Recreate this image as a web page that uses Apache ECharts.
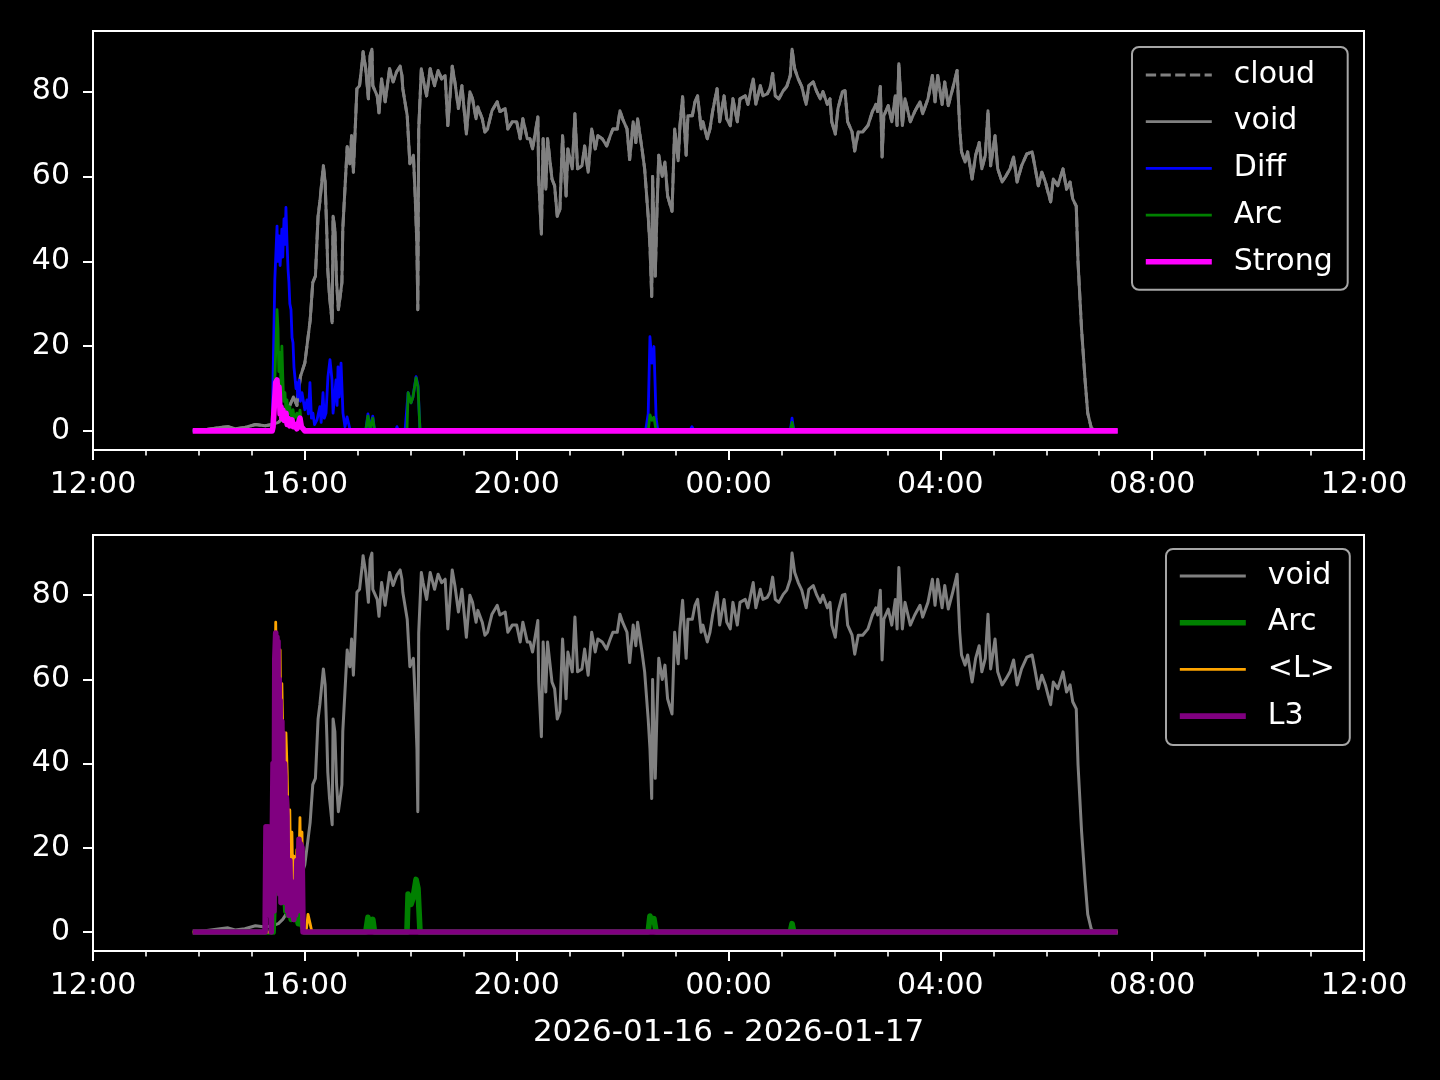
<!DOCTYPE html>
<html><head><meta charset="utf-8">
<script src="https://cdn.jsdelivr.net/npm/echarts@6/dist/echarts.min.js"></script>
<style>html,body{margin:0;padding:0;background:#000;} #c{width:1440px;height:1080px;}</style>
</head><body><div id="c"></div>
<script>
// time = minutes after 2026-01-16 12:00
const xTickMinutes = [0, 240, 480, 720, 960, 1200, 1440];
const xTickLabels = ['12:00', '16:00', '20:00', '00:00', '04:00', '08:00', '12:00'];
const yTicks = [0, 20, 40, 60, 80];
const dateLabel = '2026-01-16 - 2026-01-17';
const topLegend = ['cloud', 'void', 'Diff', 'Arc', 'Strong'];
const bottomLegend = ['void', 'Arc', '<L>', 'L3'];

const voidSeries = [[113,0],[127,0.3],[144,0.8],[153,1.0],[161,0.5],[172,0.8],[184,1.5],[195,1.2],[203,1.5],[210,2.0],[215,3],[221,5],[227,8],[231,6],[235,12.8],[240,16],[246,26],[249,35],[252,36.5],[255,50.6],[257,54],[261,62.5],[263,58.7],[265,46],[266,38],[268,31.7],[271,25.5],[272,50.6],[274,47.6],[276,35],[278,28.6],[280,31.7],[282,35],[283,47.6],[288,67],[291,63],[293,69.6],[295,61],[299,80.7],[302,81.4],[305,87],[306,89.4],[309,85.4],[312,78.3],[314,88.5],[316,90],[317,81.4],[322,79],[324,75],[327,83],[331,77.6],[333,80.7],[336,85.4],[340,82.3],[344,84.7],[348,86],[350,83.8],[351,80.7],[356,74.3],[359,63],[363,65],[365,55.5],[367,43.6],[368,28.6],[369,71],[372,85.4],[374,83],[378,79],[382,85.4],[387,81.4],[391,85],[395,83],[399,83.8],[402,72],[407,86],[410,82.3],[414,76],[418,81.4],[423,70],[427,80],[430,78.3],[434,73.6],[436,76.4],[441,73.6],[444,70.5],[447,71.2],[452,75.5],[458,77.6],[461,75.3],[467,76],[470,71.2],[475,72.9],[480,72.9],[484,68.9],[487,73.6],[492,68.9],[495,68.9],[498,66.5],[504,74],[505,59.4],[508,46.4],[510,68.9],[513,57],[515,68.9],[520,59.4],[523,57.8],[526,50.6],[529,52.3],[532,69.6],[536,55.4],[538,66.5],[543,61.8],[546,74.8],[549,61.8],[554,62.5],[557,67.2],[561,61],[565,71.2],[569,66.5],[572,69.6],[577,68.9],[582,67.2],[586,69.6],[589,71.2],[594,71.2],[597,75.5],[600,73.6],[605,71.2],[608,64],[612,72.9],[615,68],[617,73.6],[622,66.5],[625,61.8],[629,50.6],[631,43.6],[633,31.7],[634,60],[637,36.5],[639,52.3],[641,65],[645,60],[648,63.4],[651,55.4],[656,51.8],[659,71.2],[663,63.7],[665,72],[668,78.8],[672,65],[674,74.3],[679,74.3],[682,77.6],[685,79],[689,71.2],[691,72.9],[696,68.9],[699,71.2],[702,75.3],[707,80.7],[710,72.9],[715,79],[718,73.6],[722,72],[725,78.3],[730,72.9],[733,78.3],[739,79],[742,77],[748,83],[751,77],[756,81.4],[759,79],[764,79.5],[767,80.7],[770,84.3],[773,79],[777,78.3],[782,80.2],[786,81.2],[790,83.8],[792,90],[795,85.4],[799,83],[803,81.2],[808,77],[811,81.4],[816,82.3],[820,80],[824,78.3],[827,80],[832,77],[835,78.3],[837,72.9],[841,70],[844,76],[849,80],[852,80.2],[855,72.9],[860,70.5],[863,66],[867,70.5],[872,70.5],[878,72],[883,75.3],[887,77],[889,75.3],[892,81.2],[894,64.6],[896,74.3],[901,76.7],[905,72.9],[909,79],[911,72],[913,86.6],[917,72],[920,78.3],[926,72.9],[931,75.3],[937,77.6],[940,74.8],[946,78.3],[951,83.8],[954,77.6],[957,83.8],[962,77],[965,82.3],[969,76.7],[974,80.7],[979,85],[982,71.2],[984,65.8],[988,63.4],[991,65.8],[996,59.4],[1000,65],[1004,68],[1007,61.8],[1011,65],[1014,75.5],[1017,62.5],[1022,69.6],[1025,61.8],[1030,58.7],[1034,60],[1039,61.8],[1043,64.6],[1047,58.7],[1052,62.5],[1058,65.3],[1064,65.8],[1067,62.5],[1071,57.8],[1075,61],[1079,58.7],[1082,56.3],[1085,54],[1088,59.4],[1093,57.8],[1099,61.8],[1103,57],[1107,58.7],[1110,54.7],[1114,53],[1116,39.8],[1120,24],[1124,12],[1127,4.2],[1131,0.7],[1135,0],[1161,0]];

const diffSeries = [[113,0],[202,0],[203,1],[206,35.7],[208.5,48.3],[209.3,40],[210.7,46],[212,39],[213,38.8],[214,47.6],[215,41],[216.4,50],[217.5,44],[218.6,52.7],[219.8,44.5],[221,38],[222,35],[223,30],[224.3,28.6],[225.5,22],[226.6,20.8],[227.7,15],[228.8,15.1],[230,10],[231,11.4],[232,8],[233.4,12],[235,7],[236.8,9],[238,9],[240,5],[242.4,7.3],[244,4],[245.8,11.4],[247.5,3],[249.2,4.2],[251,1.5],[253.8,2.6],[257,5.7],[258.5,2],[260.6,9],[262,3],[264,4.2],[266.2,12.8],[268.5,16.8],[270.8,12],[272,4.2],[275.3,12],[276.5,6],[277.6,15.1],[279,8],[281,16],[283.2,4.2],[285.5,1],[287.8,3.3],[291,0.5],[293,0],[309,0],[311.5,4],[313.8,0.5],[317,3.5],[319,0],[343,0],[344.4,1],[346,0],[353.5,0],[357,9],[359,9],[360.3,6.6],[362.5,8],[366,12.8],[368.2,10.7],[370.5,0],[626,0],[629,4],[631,22.2],[633.3,16],[635.5,19.9],[638,3],[640,0],[676,0],[678.6,1],[681,0],[790,0],[792,3],[794,0],[1161,0]];

const arcSeries = [[113,0],[204,0],[206,12],[208.5,28.6],[209.6,24],[210.5,14],[212,18.5],[213,10],[214,20],[215,12.8],[216,7],[217.5,9],[218.5,5],[219.8,7.3],[221,4],[223,5.7],[224.5,3],[226.6,5],[228,3],[231,4.2],[232.5,2],[234.5,4.9],[236,2],[238,1],[240,0],[309,0],[311.5,3.5],[313.8,0.5],[317,3],[319,0],[355.7,0],[357,9],[360.3,6.6],[362.5,8],[366,12.5],[368.2,10.4],[370.5,0],[629,0],[631,3.8],[633.3,2.5],[635.5,3.2],[638,0],[790,0],[792,2],[794,0],[1161,0]];

const strongSeries = [[113,0],[203,0],[204,1],[207,11.4],[208.5,12],[209.5,7],[210.7,10.4],[212,4],[213,5.7],[214,3],[215,5],[216.5,2.5],[218.6,4.2],[220,1.5],[221,3],[223,1.2],[225.4,2.6],[227,1],[228.8,1.5],[231,0.5],[234.5,3],[236,1],[238,0.5],[240,0],[1161,0]];

const meanLSeries = [[113,0],[203,0],[207,73.6],[209,45],[212,67],[213,40],[214,59],[216,35],[218.6,47.3],[220,38],[221.5,20],[223,29],[224,12],[225.4,23.7],[226.5,10],[227.7,18],[229,8],[231,19.6],[232.5,10],[234.5,27.2],[235.5,12],[236.8,23.7],[238,0.5],[240,0],[242,1],[243.6,4.2],[246,2],[248,0],[1161,0]];

const l3Series = [[113,0],[195,0],[196,25],[197,4],[198.2,25],[199.3,5],[200.5,25],[202,0],[203,0],[204,40],[205,5],[206,65],[207,71],[207.7,10],[208.4,70],[209,18],[209.6,69],[210.3,14],[211,60],[211.6,9],[212,55],[213,7],[214,50],[214.6,11],[215,47.3],[216,9],[217,40],[217.5,37],[218,7],[219,32],[219.8,27.5],[220.5,5],[221,15.6],[222,4],[223,17],[224,6],[225,12],[226.6,9.5],[227.5,3],[228.8,11.8],[229.5,4],[231,17],[232,5],[233.4,22],[234.2,6],[235,21],[236.8,20],[238,0],[1161,0]];

const FONT = 'DejaVu Sans';
const FS = 30;
const GRAY = '#808080';

function xAxisCfg(gridIndex, withName) {
  const cfg = {
    type: 'value', gridIndex: gridIndex, min: 0, max: 1440, interval: 240,
    axisLine: { show: false, onZero: false },
    axisTick: { show: true, inside: false, length: 10, lineStyle: { color: '#fff', width: 2 } },
    minorTick: { show: true, splitNumber: 4, length: 5.5, lineStyle: { color: '#fff', width: 1.6 } },
    splitLine: { show: false }, minorSplitLine: { show: false },
    axisLabel: {
      color: '#fff', fontSize: FS, fontFamily: FONT, margin: 20,
      showMinLabel: true, showMaxLabel: true,
      formatter: function (v) { const i = xTickMinutes.indexOf(v); return i >= 0 ? xTickLabels[i] : ''; }
    }
  };
  if (withName) {
    cfg.name = dateLabel;
    cfg.nameLocation = 'middle';
    cfg.nameGap = 66;
    cfg.nameTextStyle = { color: '#fff', fontSize: 31, fontFamily: FONT };
  }
  return cfg;
}
function yAxisCfg(gridIndex) {
  return {
    type: 'value', gridIndex: gridIndex, min: -4.5, max: 94.3,
    axisLine: { show: false, onZero: false },
    axisTick: { show: true, inside: false, length: 10, customValues: yTicks, lineStyle: { color: '#fff', width: 2 } },
    splitLine: { show: false },
    axisLabel: { color: '#fff', fontSize: FS, fontFamily: FONT, margin: 23, customValues: yTicks }
  };
}
function line(name, data, xi, color, width, type) {
  return {
    type: 'line', name: name, data: data, xAxisIndex: xi, yAxisIndex: xi,
    symbol: 'none', showSymbol: false, silent: true, sampling: null,
    itemStyle: { color: color },
    lineStyle: { color: color, width: width, type: type || 'solid', cap: 'butt', join: 'round' }
  };
}
function legendCfg(names, left, top, pad, textPadLeft, widths) {
  return {
    show: true, orient: 'vertical', left: left, top: top,
    itemWidth: 66, itemHeight: 30, itemGap: 16.7,
    padding: pad, backgroundColor: '#000', borderColor: '#a6a6a6', borderWidth: 2, borderRadius: 7,
    selectedMode: false,
    textStyle: { color: '#fff', fontSize: FS, fontFamily: FONT, lineHeight: 30, padding: [0, 0, 0, textPadLeft] },
    itemStyle: { color: 'transparent', borderWidth: 0, borderColor: 'transparent' },
    lineStyle: { width: 'inherit', type: 'inherit', color: 'inherit' },
    data: names.map(function (n, i) { return { name: n, lineStyle: { width: widths[i] } }; })
  };
}

const chart = echarts.init(document.getElementById('c'), null, { renderer: 'canvas' });
chart.setOption({
  backgroundColor: '#000',
  animation: false,
  grid: [
    { left: 93, top: 31, width: 1271, height: 419, show: true, borderColor: '#fff', borderWidth: 2, backgroundColor: 'transparent' },
    { left: 93, top: 535, width: 1271, height: 416, show: true, borderColor: '#fff', borderWidth: 2, backgroundColor: 'transparent' }
  ],
  xAxis: [xAxisCfg(0, false), xAxisCfg(1, true)],
  yAxis: [yAxisCfg(0), yAxisCfg(1)],
  legend: [
    legendCfg(topLegend, 1132, 47, [13, 15, 13, 11], 17, [2.8, 2.8, 2.8, 2.8, 5.6]),
    legendCfg(bottomLegend, 1166, 549, [12, 15, 14, 11], 17, [2.8, 5.6, 2.8, 5.6])
  ],
  series: [
    line('cloud', voidSeries, 0, GRAY, 3, [10.3, 4.4]),
    line('void', voidSeries, 0, GRAY, 3),
    line('Diff', diffSeries, 0, '#0000ff', 2.8),
    line('Arc', arcSeries, 0, '#008000', 2.8),
    line('Strong', strongSeries, 0, '#ff00ff', 5.6),
    line('void', voidSeries, 1, GRAY, 3),
    line('Arc', arcSeries, 1, '#008000', 5.6),
    line('<L>', meanLSeries, 1, '#ffa500', 2.8),
    line('L3', l3Series, 1, '#800080', 5.6)
  ]
});
</script>
</body></html>
